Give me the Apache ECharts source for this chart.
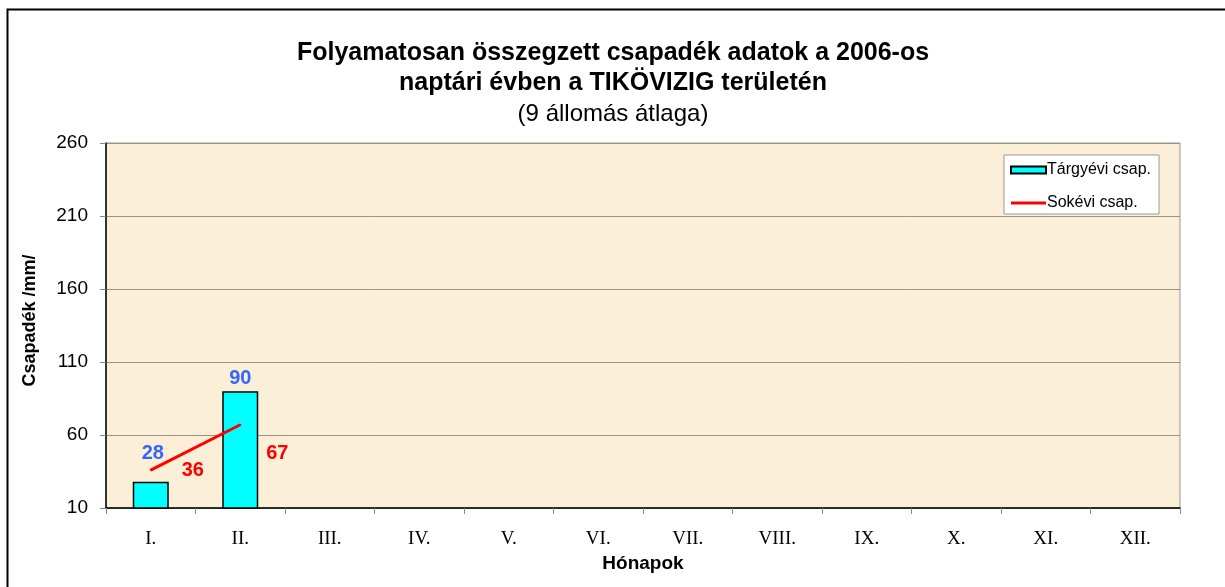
<!DOCTYPE html>
<html>
<head>
<meta charset="utf-8">
<script src="https://cdn.jsdelivr.net/npm/echarts@6/dist/echarts.min.js"></script>
<style>
  html, body { margin: 0; padding: 0; background: #fff; }
  #chart { width: 1225px; height: 587px; }
</style>
</head>
<body>
<div id="chart"></div>
<script>
var months = ['I.', 'II.', 'III.', 'IV.', 'V.', 'VI.', 'VII.', 'VIII.', 'IX.', 'X.', 'XI.', 'XII.'];
var targyevi = [28, 90];
var sokevi = [36, 67];
var yTicks = [10, 60, 110, 160, 210, 260];

// per-point label tweaks, to sit them where the original has them
var barLabelOffsets = [[2, -13], [0, 2]];
var lineLabelOffsets = [[0, 0], [0, 29]];
var lineLabelDistances = [30, 25];

var chartDom = document.getElementById('chart');
var myChart = echarts.init(chartDom);
var option;

var barData = [];
targyevi.forEach(function (v, i) {
    barData.push({ value: v, label: { offset: barLabelOffsets[i] } });
});
var lineData = [];
sokevi.forEach(function (v, i) {
    lineData.push({ value: v, label: { offset: lineLabelOffsets[i], distance: lineLabelDistances[i] } });
});

option = {
    backgroundColor: '#ffffff',
    animation: false,
    textStyle: { fontFamily: 'Liberation Sans, Arial, sans-serif' },
    title: {
        text: 'Folyamatosan összegzett csapadék adatok a 2006-os\nnaptári évben a TIKÖVIZIG területén',
        subtext: '(9 állomás átlaga)',
        left: 613,
        textAlign: 'center',
        top: 38,
        padding: 0,
        itemGap: 0,
        textStyle: { fontSize: 25, fontWeight: 'bold', color: '#000', lineHeight: 30 },
        subtextStyle: { fontSize: 24, color: '#000', lineHeight: 32 }
    },
    graphic: [{
        type: 'rect',
        shape: { x: 7.5, y: 9.5, width: 1300, height: 700 },
        style: { fill: 'none', stroke: '#000', lineWidth: 2 },
        silent: true
    }],
    legend: {
        orient: 'vertical',
        left: 1004,
        top: 155,
        padding: [7, 8, 3, 6],
        itemGap: 17,
        itemWidth: 35,
        itemHeight: 7,
        backgroundColor: '#ffffff',
        borderColor: '#999',
        borderWidth: 1,
        borderRadius: 0,
        textStyle: { fontSize: 16, color: '#000', padding: [0, 0, 0, -4] },
        data: [
            { name: 'Tárgyévi csap.', icon: 'rect' },
            {
                name: 'Sokévi csap.',
                icon: 'path://M0,0 L1,0 L1,0 Z M0,2 L35,2 L35,5 L0,5 Z M0,7 L1,7 L1,7 Z',
                itemStyle: { color: '#ff0000', borderWidth: 0 }
            }
        ]
    },
    grid: {
        left: 106,
        right: 45,
        top: 143,
        bottom: 79,
        show: true,
        backgroundColor: '#fcefd7',
        borderColor: '#999',
        borderWidth: 1
    },
    xAxis: {
        type: 'category',
        data: months,
        name: 'Hónapok',
        nameLocation: 'middle',
        nameGap: 46,
        nameTextStyle: { fontSize: 19, fontWeight: 'bold', color: '#000' },
        axisLine: { lineStyle: { color: '#000', width: 1.5 } },
        axisTick: { show: true, length: 6, lineStyle: { color: '#888' } },
        axisLabel: {
            fontFamily: 'Liberation Serif, Times New Roman, serif',
            fontSize: 19,
            color: '#000',
            margin: 22
        }
    },
    yAxis: {
        type: 'value',
        min: yTicks[0],
        max: yTicks[yTicks.length - 1],
        interval: 50,
        name: 'Csapadék /mm/',
        nameLocation: 'middle',
        nameRotate: 90,
        nameGap: 67,
        nameTextStyle: { fontSize: 18, fontWeight: 'bold', color: '#000', padding: [0, 0, 0, 10] },
        axisLine: { show: true, lineStyle: { color: '#000', width: 1.5 } },
        axisTick: { show: true, length: 6, lineStyle: { color: '#888' } },
        axisLabel: { fontSize: 19, color: '#000', margin: 18 },
        splitLine: { lineStyle: { color: '#9a9286', width: 1 } }
    },
    series: [
        {
            name: 'Tárgyévi csap.',
            type: 'bar',
            data: barData,
            barWidth: 36,
            itemStyle: { color: '#00ffff', borderColor: '#000', borderWidth: 1.5 },
            label: {
                show: true,
                position: 'top',
                distance: 5,
                fontSize: 20,
                fontWeight: 'bold',
                color: '#3366ff'
            }
        },
        {
            name: 'Sokévi csap.',
            type: 'line',
            data: lineData,
            showSymbol: true,
            symbol: 'circle',
            symbolSize: 2,
            lineStyle: { color: '#ff0000', width: 3 },
            itemStyle: { color: '#ff0000' },
            label: {
                show: true,
                position: 'right',
                fontSize: 20,
                fontWeight: 'bold',
                color: '#ff0000'
            }
        }
    ]
};

option && myChart.setOption(option);
</script>
</body>
</html>
